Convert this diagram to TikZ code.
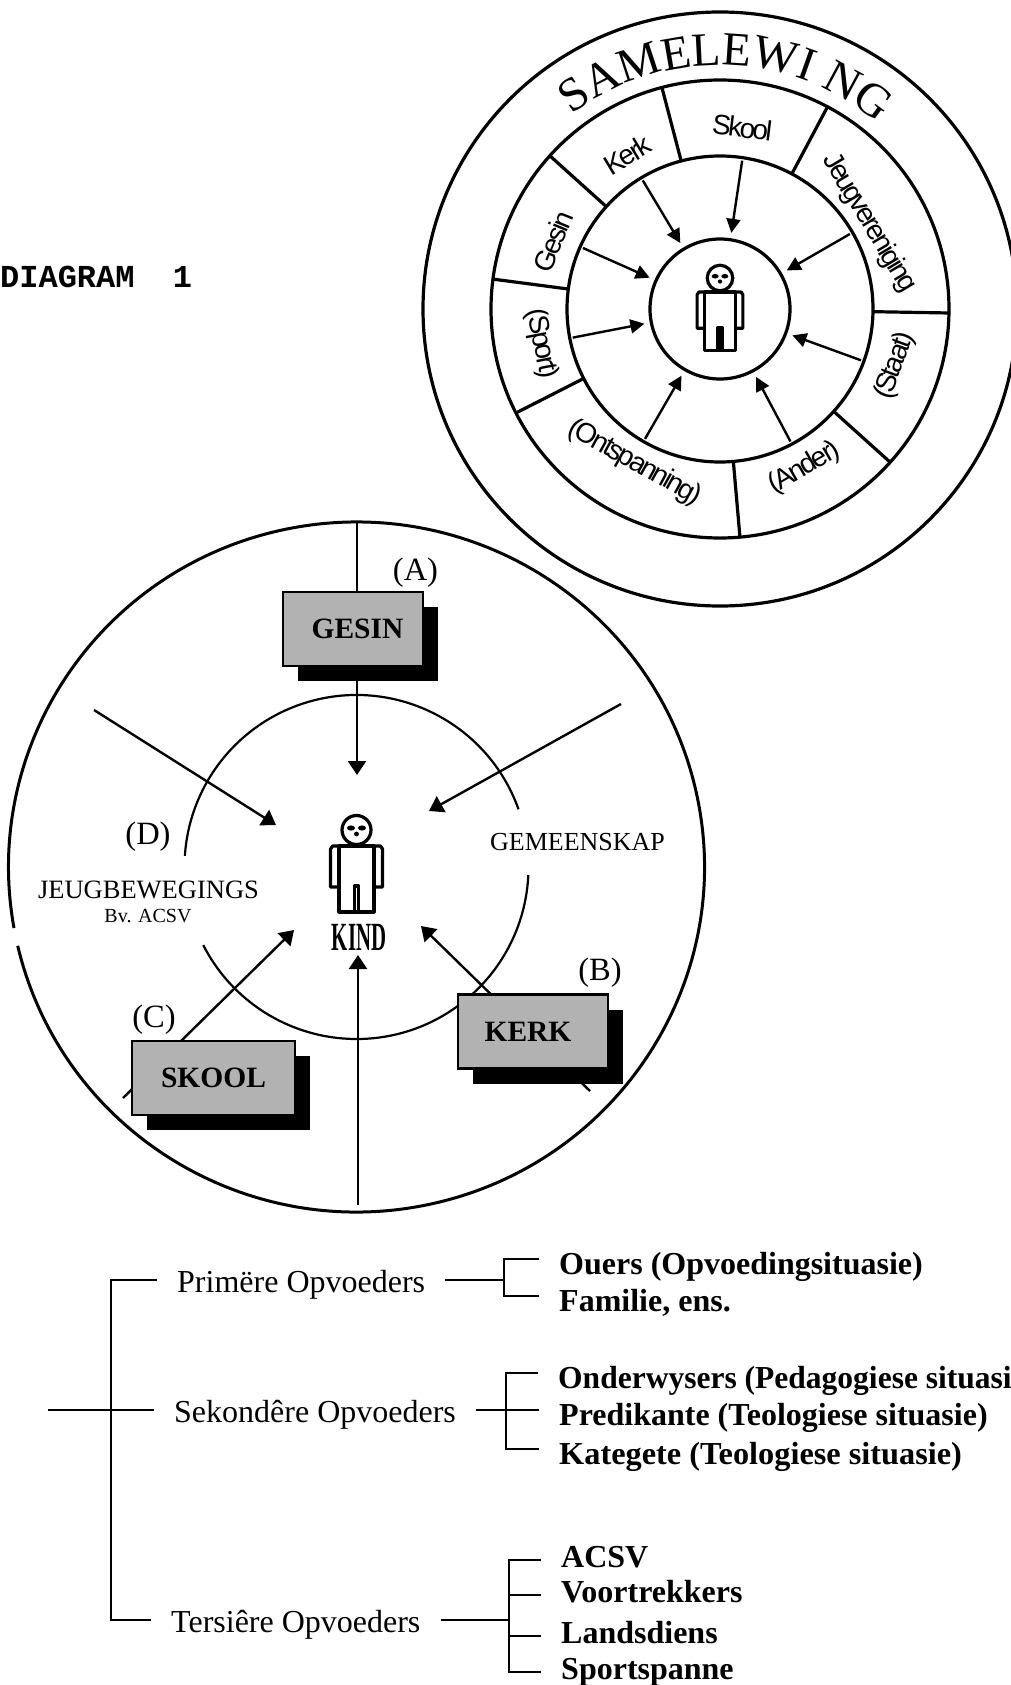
\documentclass[tikz,border=0pt]{standalone}
\usepackage{fontspec}
\setmainfont{Liberation Serif}
\newfontfamily\wheelfont[LetterSpace=-9]{Liberation Sans}
\newfontfamily\diagfont{Liberation Mono}
\usetikzlibrary{arrows.meta,calc,decorations.text,shadows}
\newcommand{\fsz}[1]{\fontsize{#1}{#1}\selectfont}
\tikzset{
  wheelline/.style={line width=3.2pt},
  wheelarrow/.style={->,line width=2.4pt,>={Triangle[length=14pt,width=14pt]}},
  kindarrow/.style={->,line width=2.4pt,>={Triangle[length=14pt,width=18pt]}},
  wheellabel/.style={inner sep=0pt,font=\wheelfont\fsz{28}},
  opvbox/.style={draw,line width=2.8pt,fill=black!30,inner sep=0pt,minimum height=74pt,
    font=\bfseries\fsz{29.5},general shadow={fill=black,shadow xshift=15pt,shadow yshift=-15pt}},
  letterlabel/.style={inner sep=0pt,font=\fsz{32.5}},
  treeline/.style={line width=2.8pt},
  opvnode/.style={anchor=west,inner ysep=0pt,inner xsep=20pt,text height=30pt,text depth=6pt,font=\fsz{32}},
  leafnode/.style={anchor=west,inner ysep=0pt,inner xsep=20pt,text height=36pt,text depth=6pt,font=\bfseries\fsz{32}},
  leaflow/.style={leafnode,text height=26pt,text depth=12pt},
  kindfig/.pic={
    \draw[line width=3.2pt] (0,0) circle[radius=14.5];
    \draw[line width=3.2pt,line join=round] (-17.5,-16) rectangle (17.5,-82);
    \draw[line width=3.2pt,line join=round] (-2.2,-82) -- (-2.2,-56) -- (2.2,-56) -- (2.2,-82);
    \draw[line width=3.2pt,line join=round] (-17.5,-16) -- (-24,-16) -- (-26,-19) -- (-26,-57) -- (-17.5,-57);
    \draw[line width=3.2pt,line join=round] (17.5,-16) -- (24,-16) -- (26,-19) -- (26,-57) -- (17.5,-57);
    \fill (-5.5,2) ellipse[x radius=4,y radius=2.6];
    \fill (5.5,2) ellipse[x radius=4,y radius=2.6];
    \fill (0,-4) circle[radius=2.4];
  }
}

\begin{document}
\begin{tikzpicture}[x=1pt,y=1pt]

  \clip (0,0) rectangle (1011,-1685);

  \node[anchor=west,inner sep=0pt,font=\diagfont\bfseries\fsz{32}] (diagram) at (0,-277) {DIAGRAM~~1};

  % --- Wheel, top right ---
  \coordinate (W) at (720,-309);
  \draw[wheelline] (W) circle[radius=297];
  \draw[wheelline] (W) circle[radius=229];
  \draw[wheelline] (W) circle[radius=153];
  \draw[wheelline] (W) circle[radius=70];

  \path[decorate,decoration={text along path,text align=center,
    text={|\fsz{47.5}|SAMELEWI NG}}]
    ($(W)+(127:244)$) arc[start angle=127,end angle=50,radius=244];

  \foreach \ang in {104.7,62,-1,-42,-85,207,172.5,138}
    \draw[wheelline] ($(W)+(\ang:153)$) -- ($(W)+(\ang:229)$);

  \foreach \ang in {121,81.5,30,-20,-62,240,191,156}
    \draw[wheelarrow] ($(W)+(\ang:150)$) -- ($(W)+(\ang:77)$);

  \foreach \txt/\nam/\ang/\rad/\rot in {Skool/skool/83/183/-7,Kerk/kerk/121/180/31,Gesin/gesin/158/180/68,
      (Sport)/sport/191/182/-79,(Ontspanning)/ontsp/241/176/-29,(Ander)/ander/298/180/30,
      (Staat)/staat/-18/184/70,Jeugvereniging/jeugv/30/172/-59}
    \node[wheellabel,rotate=\rot] (\nam) at ($(W)+(\ang:\rad)$) {\txt};

  \pic[scale=0.88] (figa) at (720,-278) {kindfig};

  % --- Circle with the child ---
  \coordinate (K) at (356.5,-867);
  \draw[line width=3pt] ($(K)+(193.2:348 and 345)$) arc[start angle=193.2,end angle=550.2,x radius=348,y radius=345];
  \draw[line width=2.2pt] ($(K)+(19.6:172)$) arc[start angle=19.6,end angle=176.3,radius=172];
  \draw[line width=2.2pt] ($(K)+(-2.7:172)$) arc[start angle=-2.7,end angle=-153,radius=172];

  \coordinate (topa) at (357,-522);
  \coordinate (tipa) at (357,-775);
  \coordinate (topb) at (94,-710);
  \coordinate (tipb) at (276,-825);
  \coordinate (topc) at (621,-704);
  \coordinate (tipc) at (429,-811);
  \coordinate (topd) at (590,-1091);
  \coordinate (tipd) at (421,-926);
  \coordinate (tope) at (123,-1098);
  \coordinate (tipe) at (294,-930);
  \coordinate (topf) at (358,-1205);
  \coordinate (tipf) at (358,-955);

  \foreach \i in {a,b,c,d,e,f}
    \draw[kindarrow] (top\i) -- (tip\i);

  \node[opvbox,minimum width=140pt] (gesinbox) at (353,-629) {\hspace*{9pt}GESIN};
  \node[opvbox,minimum width=150pt] (kerkbox) at (533,-1031.5) {KERK\hspace*{10pt}};
  \node[opvbox,minimum width=163pt] (skoolbox) at (213.5,-1078) {SKOOL};

  \node[letterlabel] (labA) at (415.5,-572.5) {(A)};
  \node[letterlabel] (labB) at (600,-973) {(B)};
  \node[letterlabel] (labC) at (154,-1020) {(C)};
  \node[letterlabel] (labD) at (148,-837) {(D)};

  \node[inner sep=0pt,font=\fsz{26}] (gemeen) at (577.5,-842) {GEMEENSKAP};
  \node[inner sep=0pt,font=\fsz{26.5}] (jeugb) at (148.5,-890) {JEUGBEWEGINGS};
  \node[inner sep=0pt,font=\fsz{20}] (bvacsv) at (148,-916) {Bv. ACSV};
  \node[inner sep=0pt,font=\bfseries\fsz{40}] (kind) at (359,-937) {\scalebox{0.52}[1]{KIND}};

  \pic (figb) at (356.5,-830) {kindfig};

  % --- Tree of educators ---
  \node[opvnode] (prim) at (157,-1280) {Primëre Opvoeders};
  \node[opvnode] (sek) at (154,-1410) {Sekondêre Opvoeders};
  \node[opvnode] (ter) at (151,-1620) {Tersiêre Opvoeders};

  \node[leafnode] (ouers) at (539,-1259) {Ouers (Opvoedingsituasie)};
  \node[leafnode] (famil) at (539,-1296) {Familie, ens.};
  \node[leafnode] (onder) at (538,-1373) {\scalebox{0.985}[1]{Onderwysers (Pedagogiese situasi}};
  \node[leafnode] (predi) at (539,-1410) {Predikante (Teologiese situasie)};
  \node[leafnode] (kateg) at (539,-1449) {\scalebox{1.01}[1]{Kategete (Teologiese situasie)}};
  \node[leaflow] (acsv) at (541,-1560) {ACSV};
  \node[leaflow] (voort) at (541,-1595) {Voortrekkers};
  \node[leaflow] (lands) at (541,-1636) {Landsdiens};
  \node[leaflow] (sport2) at (541,-1672) {Sportspanne};

  \coordinate (root) at (48,-1410);
  \coordinate (trunk) at (111,-1410);
  \coordinate (jp) at (504,-1280);
  \coordinate (js) at (506,-1410);
  \coordinate (jt) at (509,-1620);

  % From the root through the trunk to each group
  \draw[treeline] (root) -- (sek.west);
  \draw[treeline] (prim.west) -- (prim.west -| trunk) -- (ter.west -| trunk) -- (ter.west);

  % From each group to its bracket
  \draw[treeline] (prim.east) -- (jp);
  \draw[treeline] (sek.east) -- (js);
  \draw[treeline] (ter.east) -- (jt);

  \foreach \leaf in {ouers,famil}
    \draw[treeline] (\leaf.west) -| (jp);
  \foreach \leaf in {onder,predi,kateg}
    \draw[treeline] (\leaf.west) -| (js);
  \foreach \leaf in {acsv,voort,lands,sport2}
    \draw[treeline] (\leaf.west) -| (jt);

\end{tikzpicture}
\end{document}
